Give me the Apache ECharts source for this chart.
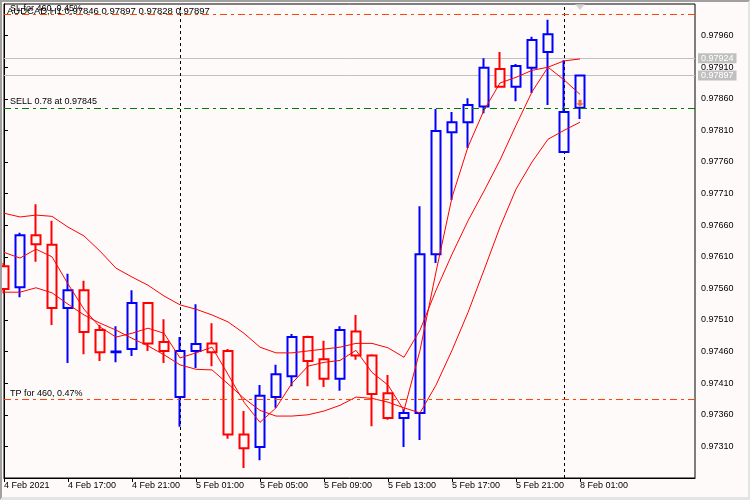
<!DOCTYPE html>
<html><head><meta charset="utf-8">
<script src="https://cdn.jsdelivr.net/npm/echarts@6/dist/echarts.min.js"></script>
<style>
html,body{margin:0;padding:0;background:#fffafa;}
#c{width:750px;height:500px;}
#f{position:absolute;left:0;top:0;width:750px;height:500px;box-sizing:border-box;border-left:2px solid #a0a0a0;border-top:2px solid #a0a0a0;border-right:2px solid #e4e4e4;border-bottom:3px solid #e4e4e4;pointer-events:none;}
</style>
</head><body><div id="c"></div><div id="f"></div>
<script>
const symbolName = 'AUDCAD,H1';
const times = [
 '2021.02.04 13:00','2021.02.04 14:00','2021.02.04 15:00','2021.02.04 16:00','2021.02.04 17:00','2021.02.04 18:00',
 '2021.02.04 19:00','2021.02.04 20:00','2021.02.04 21:00','2021.02.04 22:00','2021.02.04 23:00',
 '2021.02.05 00:00','2021.02.05 01:00','2021.02.05 02:00','2021.02.05 03:00','2021.02.05 04:00','2021.02.05 05:00',
 '2021.02.05 06:00','2021.02.05 07:00','2021.02.05 08:00','2021.02.05 09:00','2021.02.05 10:00','2021.02.05 11:00',
 '2021.02.05 12:00','2021.02.05 13:00','2021.02.05 14:00','2021.02.05 15:00','2021.02.05 16:00','2021.02.05 17:00',
 '2021.02.05 18:00','2021.02.05 19:00','2021.02.05 20:00','2021.02.05 21:00','2021.02.05 22:00','2021.02.05 23:00',
 '2021.02.08 00:00','2021.02.08 01:00'];
const opens  = [0.97595,0.97562,0.97644,0.97629,0.97529,0.97557,0.97494,0.97459,0.97464,0.97537,0.97475,
 0.97388,0.97461,0.97473,0.97461,0.97329,0.97309,0.97388,0.97421,0.97483,0.97448,0.97417,0.97492,0.97454,
 0.97394,0.97355,0.97363,0.97614,0.97807,0.97823,0.97848,0.97907,0.97879,0.97909,0.97934,0.97776,0.97846];
const closes = [0.97559,0.97644,0.97630,0.97529,0.97557,0.97491,0.97459,0.97460,0.97537,0.97473,0.97461,
 0.97461,0.97472,0.97459,0.97329,0.97307,0.97390,0.97424,0.97483,0.97445,0.97417,0.97494,0.97454,0.97393,
 0.97355,0.97363,0.97614,0.97809,0.97823,0.97850,0.97909,0.97879,0.97912,0.97953,0.97962,0.97839,0.97897];
const lows   = [0.97552,0.97546,0.97602,0.97502,0.97442,0.97456,0.97445,0.97443,0.97453,0.97461,0.97442,
 0.97341,0.97434,0.97437,0.97322,0.97276,0.97288,0.97371,0.97405,0.97405,0.97404,0.97398,0.97447,0.97342,
 0.97352,0.97309,0.97320,0.97600,0.97700,0.97782,0.97837,0.97878,0.97856,0.97869,0.97850,0.97775,0.97828];
const highs  = [0.97600,0.97648,0.97693,0.97667,0.97583,0.97572,0.97502,0.97500,0.97557,0.97538,0.97511,
 0.97483,0.97535,0.97505,0.97464,0.97366,0.97407,0.97439,0.97488,0.97485,0.97477,0.97500,0.97518,0.97456,
 0.97423,0.97369,0.97690,0.97844,0.97839,0.97861,0.97924,0.97934,0.97915,0.97958,0.97985,0.97921,0.97897];
const lineUpper = [0.97679,0.97673,0.97676,0.97674,0.97657,0.97643,0.97619,0.97592,0.97578,0.97565,0.97548,
 0.97534,0.97527,0.97518,0.97507,0.97489,0.97467,0.97458,0.97458,0.97461,0.97464,0.97467,0.97473,0.97473,
 0.97466,0.97451,0.97494,0.97557,0.97614,0.97667,0.97714,0.97763,0.97818,0.97871,0.97910,0.97920,0.97923];
const lineFast = [0.97617,0.97608,0.97622,0.97610,0.97567,0.97527,0.97499,0.97483,0.97489,0.97497,0.97489,
 0.97450,0.97458,0.97467,0.97424,0.97380,0.97348,0.97371,0.97410,0.97437,0.97443,0.97446,0.97462,0.97427,
 0.97407,0.97367,0.97462,0.97586,0.97704,0.97784,0.97842,0.97885,0.97894,0.97905,0.97910,0.97890,0.97867];
const lineLower = [0.97554,0.97554,0.97561,0.97553,0.97535,0.97518,0.97505,0.97494,0.97481,0.97469,0.97455,
 0.97439,0.97432,0.97431,0.97409,0.97386,0.97367,0.97358,0.97358,0.97360,0.97366,0.97375,0.97388,0.97386,
 0.97380,0.97371,0.97363,0.97407,0.97462,0.97522,0.97589,0.97657,0.97717,0.97760,0.97796,0.97810,0.97823];
const xTickLabels = ['4 Feb 2021','4 Feb 17:00','4 Feb 21:00','5 Feb 01:00','5 Feb 05:00','5 Feb 09:00',
 '5 Feb 13:00','5 Feb 17:00','5 Feb 21:00','8 Feb 01:00'];
const xTickStep = 4;
const yTickLabels = ['0.97310','0.97360','0.97410','0.97460','0.97510','0.97560','0.97610','0.97660',
 '0.97710','0.97760','0.97810','0.97860','0.97910','0.97960'];
const yMin = 0.97260, yMax = 0.98010, yStep = 0.0005;
const xMax = 43.1875;
const askPrice = 0.97924, bidPrice = 0.97897;
const slPrice = 0.97993, sellPrice = 0.97845, tpPrice = 0.97384;
const slText = 'SL for 460, 0.45%', sellText = 'SELL 0.78 at 0.97845', tpText = 'TP for 460, 0.47%';

const FONT = 'Liberation Sans';
const n = times.length, last = n - 1;
const candleData = times.map((t, i) => [i, opens[i], closes[i], lows[i], highs[i]]);
const toXY = arr => arr.map((v, i) => [i, v]);
const sepIdx = times.map((t, i) => i).filter(i => i > 0 && times[i].slice(0, 10) !== times[i - 1].slice(0, 10));
const titleText = symbolName + ' ' + [opens[last], highs[last], lows[last], closes[last]].map(v => v.toFixed(5)).join(' ');

const dashDot = [7, 4, 3, 4];
const priceBox = v => ({show: true, position: 'end', formatter: v.toFixed(5), backgroundColor: '#c0c0c0', color: '#ffffff',
  padding: [1, 3, 0, 3], distance: 3, fontSize: 9, lineHeight: 9, fontFamily: FONT});
const objLabel = t => ({show: true, position: 'insideStartTop', formatter: t, color: '#000', distance: [6, 2], fontSize: 9, fontFamily: FONT});
const orange = '#ff4500';

const chart = echarts.init(document.getElementById('c'));
chart.setOption({
  backgroundColor: '#fffafa',
  animation: false,
  textStyle: {fontFamily: FONT, fontSize: 9},
  title: {text: titleText, left: 7, top: 6, padding: 0,
    textStyle: {fontSize: 9.5, fontWeight: 'normal', color: '#000', fontFamily: FONT}},
  grid: {left: 4, top: 4, right: 55, bottom: 22, show: true, borderColor: '#000', borderWidth: 1, backgroundColor: '#fffafa'},
  xAxis: {type: 'value', min: 0, max: xMax, interval: xTickStep,
    axisLine: {show: true, lineStyle: {color: '#000', width: 1}},
    axisTick: {show: true, length: 4, lineStyle: {color: '#000'}, customValues: xTickLabels.map((_, j) => j * xTickStep)},
    axisLabel: {show: true, align: 'left', margin: 3, color: '#000', fontSize: 9, fontFamily: FONT,
      customValues: xTickLabels.map((_, j) => j * xTickStep),
      formatter: v => xTickLabels[Math.round(v / xTickStep)] || ''},
    splitLine: {show: false}},
  yAxis: {type: 'value', position: 'right', min: yMin, max: yMax, interval: yStep,
    axisLine: {show: true, lineStyle: {color: '#000', width: 1}},
    axisTick: {show: true, length: 4, lineStyle: {color: '#000'}, customValues: yTickLabels.map(Number)},
    axisLabel: {show: true, margin: 6, color: '#000', fontSize: 9, fontFamily: FONT,
      customValues: yTickLabels.map(Number), formatter: v => v.toFixed(5)},
    splitLine: {show: false}},
  series: [
    {type: 'candlestick', data: candleData, barWidth: 9, z: 2, clip: true, silent: true,
      itemStyle: {color: '#fffafa', color0: '#fffafa', borderColor: '#0000ff', borderColor0: '#ff0000', borderWidth: 2},
      markLine: {silent: true, z: 1, precision: 5, symbol: ['none', 'none'], animation: false,
        data: [
          {yAxis: askPrice, lineStyle: {color: '#c0c0c0', width: 1, type: 'solid'}, label: priceBox(askPrice)},
          {yAxis: bidPrice, lineStyle: {color: '#c0c0c0', width: 1, type: 'solid'}, label: priceBox(bidPrice)}
        ].concat(sepIdx.map(i => ({xAxis: i, lineStyle: {color: '#000', width: 1, type: [3, 3]}, label: {show: false}})))}},
    {type: 'line', data: toXY(lineUpper), symbol: 'none', z: 3, silent: true, lineStyle: {color: '#ff0000', width: 1}},
    {type: 'line', data: toXY(lineFast), symbol: 'none', z: 3, silent: true, lineStyle: {color: '#ff0000', width: 1}},
    {type: 'line', data: toXY(lineLower), symbol: 'none', z: 3, silent: true, lineStyle: {color: '#ff0000', width: 1},
      markLine: {silent: true, z: 5, precision: 5, symbol: ['none', 'none'], animation: false,
        lineStyle: {color: orange, width: 1, type: dashDot, opacity: 1},
        data: [
          {yAxis: slPrice, lineStyle: {color: orange, width: 1, type: dashDot, opacity: 1}, label: objLabel(slText)},
          {yAxis: sellPrice, lineStyle: {color: '#008000', width: 1, type: dashDot, opacity: 1}, label: objLabel(sellText)},
          {yAxis: tpPrice, lineStyle: {color: orange, width: 1, type: dashDot, opacity: 1}, label: objLabel(tpText)}
        ]}},
    {type: 'scatter', data: [[last, sellPrice]], clip: false, silent: true, z: 6,
      symbol: 'path://M3,0 L7,0 L7,5 L10,5 L5,10 L0,5 L3,5 Z', symbolSize: [8, 7], symbolOffset: [0, -5],
      itemStyle: {color: '#e8501e'}},
    {type: 'scatter', data: [[last, yMax]], clip: false, silent: true, z: 6,
      symbol: 'triangle', symbolRotate: 180, symbolSize: [10, 6], symbolOffset: [0, 3],
      itemStyle: {color: '#c8c8c8'}}
  ]
});
</script>
</body></html>
